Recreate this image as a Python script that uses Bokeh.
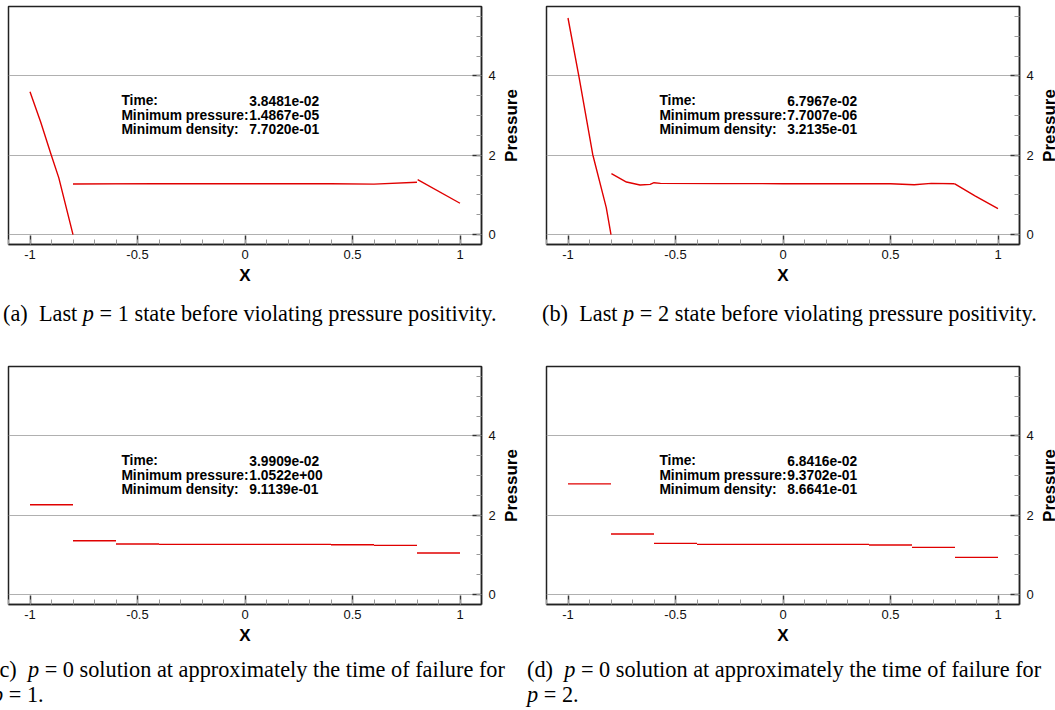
import math
from bokeh.plotting import figure
from bokeh.models import (ColumnDataSource, SingleIntervalTicker, NumeralTickFormatter,
                          Range1d, Div)
from bokeh.layouts import column, row
from bokeh.embed import file_html
from bokeh.resources import INLINE
from bokeh.core.properties import value

# ---------------- data ----------------
# (a) last p=1 state
a_left_x = [-1.0, -0.95, -0.902, -0.866, -0.8]
a_left_y = [3.60, 2.83, 2.02, 1.43, 0.0]
a_mid_x = [-0.8, -0.4, 0.0, 0.4, 0.6, 0.8]
a_mid_y = [1.275, 1.285, 1.282, 1.28, 1.272, 1.32]
a_right_x = [0.803, 1.0]
a_right_y = [1.384, 0.79]

# (b) last p=2 state
b_left_x = [-1.0, -0.948, -0.885, -0.822, -0.8]
b_left_y = [5.46, 3.95, 2.02, 0.68, 0.0]
b_mid_x = [-0.798, -0.728, -0.665, -0.618, -0.6, -0.57, -0.3, 0.0, 0.3, 0.5, 0.61, 0.69, 0.797]
b_mid_y = [1.535, 1.325, 1.25, 1.266, 1.308, 1.29, 1.285, 1.283, 1.283, 1.28, 1.258, 1.29, 1.283]
b_right_x = [0.797, 0.895, 1.0]
b_right_y = [1.283, 0.97, 0.654]

# (c), (d) p=0 piecewise constant solutions
elem_edges = [-1.0, -0.8, -0.6, -0.4, -0.2, 0.0, 0.2, 0.4, 0.6, 0.8, 1.0]
c_vals = [2.264, 1.358, 1.275, 1.266, 1.266, 1.266, 1.266, 1.258, 1.241, 1.048]
d_vals = [2.79, 1.526, 1.291, 1.266, 1.266, 1.266, 1.266, 1.249, 1.191, 0.939]

info_labels = ["Time:", "Minimum pressure:", "Minimum density:"]
a_info = ["3.8481e-02", "1.4867e-05", "7.7020e-01"]
b_info = ["6.7967e-02", "7.7007e-06", "3.2135e-01"]
c_info = ["3.9909e-02", "1.0522e+00", "9.1139e-01"]
d_info = ["6.8416e-02", "9.3702e-01", "8.6641e-01"]

x_label = "X"
y_label = "Pressure"
x_ticks_interval = 0.5
y_ticks_interval = 2

cap_a = "(a)&ensp;Last <i>p</i> = 1 state before violating pressure positivity."
cap_b = "(b)&ensp;Last <i>p</i> = 2 state before violating pressure positivity."
cap_c = "(c)&ensp;<i>p</i> = 0 solution at approximately the time of failure for<br><i>p</i> = 1."
cap_d = "(d)&ensp;<i>p</i> = 0 solution at approximately the time of failure for<br><i>p</i> = 2."

RED = "#e00000"
SANS = "Liberation Sans"
RIGHT_BORDER = 22


def make_panel(info, left, top):
    p = figure(frame_width=473, frame_height=238,
               x_range=Range1d(-1.1, 1.1), y_range=Range1d(-0.25, 5.75),
               y_axis_location="right", output_backend="svg", toolbar_location=None,
               min_border_left=left, min_border_right=RIGHT_BORDER, min_border_top=top,
               min_border_bottom=50, background_fill_color="white",
               border_fill_color="white")
    p.outline_line_color = "#222222"
    p.outline_line_width = 1.5
    p.xgrid.visible = False
    p.ygrid.grid_line_color = "#b0b0b0"
    p.ygrid.grid_line_width = 1

    xa = p.xaxis[0]
    xa.ticker = SingleIntervalTicker(interval=x_ticks_interval, num_minor_ticks=5)
    xa.formatter = NumeralTickFormatter(format="0.[0]")
    ya = p.yaxis[0]
    ya.ticker = SingleIntervalTicker(interval=y_ticks_interval, num_minor_ticks=4)
    for ax in (xa, ya):
        ax.major_tick_in = 9
        ax.major_tick_out = 0
        ax.minor_tick_in = 5
        ax.minor_tick_out = 0
        ax.major_tick_line_color = "#333333"
        ax.major_tick_line_width = 1.5
        ax.minor_tick_line_color = "#999999"
        ax.minor_tick_line_width = 1
        ax.axis_line_color = "#222222"
        ax.axis_line_width = 1.5
        ax.major_label_text_font = SANS
        ax.major_label_text_font_size = "13px"
        ax.major_label_text_color = "#111111"
        ax.axis_label_text_font = SANS
        ax.axis_label_text_font_style = "bold"
        ax.axis_label_text_font_size = "17px"
        ax.axis_label_text_color = "#000000"
    xa.axis_label = x_label
    xa.major_label_standoff = 5
    xa.axis_label_standoff = 4
    ya.major_label_standoff = 7

    src_l = ColumnDataSource(dict(x=[-0.575] * 3, y=[3.37, 3.01, 2.66], t=info_labels))
    src_v = ColumnDataSource(dict(x=[0.02] * 3, y=[3.37, 3.01, 2.66], t=info))
    for s in (src_l, src_v):
        p.text(x="x", y="y", text="t", source=s, text_font=value(SANS),
               text_font_style="bold", text_font_size="13.8px",
               text_baseline="middle", text_align="left", text_color="#000000")
    return p


def axis_title(width, top, xpos):
    # strip holding the rotated title of the right-hand y axis (reads bottom-to-top)
    t = figure(frame_width=width, frame_height=238, x_range=Range1d(0, width),
               y_range=Range1d(-0.25, 5.75), x_axis_location=None, y_axis_location=None,
               output_backend="svg", toolbar_location=None,
               min_border_left=0, min_border_right=0, min_border_top=top,
               min_border_bottom=50, outline_line_color=None,
               background_fill_color="white", border_fill_color="white")
    t.xgrid.visible = False
    t.ygrid.visible = False
    t.text(x=[xpos], y=[2.75], text=[y_label], angle=math.pi / 2,
           text_font=value(SANS), text_font_style="bold", text_font_size="17px",
           text_align="center", text_baseline="middle", text_color="#000000")
    return t


# left column: canvas 8 + 473 + 22 = 503, title strip 503..525
# right column: canvas 21 + 473 + 22 = 516 (525..1041), title strip 1041..1055
fa = make_panel(a_info, 8, 6)
fa.line(a_left_x, a_left_y, line_color=RED, line_width=1.4)
fa.line(a_mid_x, a_mid_y, line_color=RED, line_width=1.4)
fa.line(a_right_x, a_right_y, line_color=RED, line_width=1.4)
ta = axis_title(22, 6, 7.6)

fb = make_panel(b_info, 21, 6)
fb.line(b_left_x, b_left_y, line_color=RED, line_width=1.4)
fb.line(b_mid_x, b_mid_y, line_color=RED, line_width=1.4)
fb.line(b_right_x, b_right_y, line_color=RED, line_width=1.4)
tb = axis_title(14, 6, 7.8)

fc = make_panel(c_info, 8, 11)
fc.segment(x0=elem_edges[:-1], x1=elem_edges[1:], y0=c_vals, y1=c_vals,
           line_color=RED, line_width=1.4)
tc = axis_title(22, 11, 7.6)

fd = make_panel(d_info, 21, 11)
fd.segment(x0=elem_edges[:-1], x1=elem_edges[1:], y0=d_vals, y1=d_vals,
           line_color=RED, line_width=1.4)
td = axis_title(14, 11, 7.8)


def caption(html, width, height, pad_left, pad_top, line_height):
    style = ("font-family:'Liberation Serif'; font-size:22.3px; line-height:%spx; "
             "white-space:nowrap; color:#000; margin:0; margin-left:%dpx; padding-top:%dpx;"
             % (line_height, pad_left, pad_top))
    return Div(text='<div style="%s">%s</div>' % (style, html), width=width, height=height,
               margin=0, styles={"overflow": "hidden"})


ca = caption(cap_a, 525, 61, 3, 8, 23.5)
cb = caption(cap_b, 530, 61, 17, 8, 23.5)
cc = caption(cap_c, 525, 56, -8, 3, 25)
cd = caption(cap_d, 530, 56, 2, 3, 25)

layout = column(row(fa, ta, fb, tb), row(ca, cb), row(fc, tc, fd, td), row(cc, cd))

open("out.html", "w").write(file_html(layout, INLINE))
